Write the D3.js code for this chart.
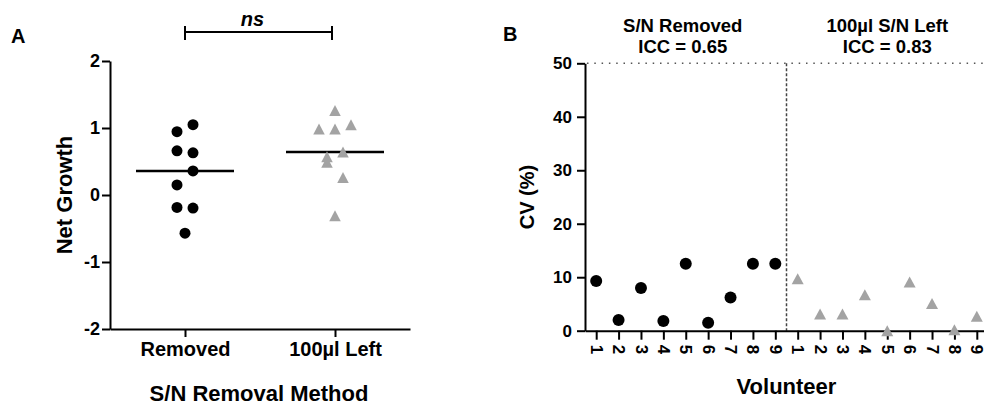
<!DOCTYPE html>
<html>
<head>
<meta charset="utf-8">
<script src="https://cdn.jsdelivr.net/npm/d3@7"></script>
<style>
  html, body { margin: 0; padding: 0; background: #fff; }
  svg { display: block; font-family: "Liberation Sans", Arial, sans-serif; font-weight: bold; }
</style>
</head>
<body>
<svg id="chart" width="984" height="406"></svg>
<script>
// ---- Panel A: net growth by supernatant removal method ----
const groupsA = ["Removed", "100\u00b5l Left"];
const removedGrowth = [0.945, 1.05, 0.66, 0.63, 0.36, 0.15, -0.185, -0.195, -0.57];
const removedLane   = [-1, 1, -1, 1, 1, -1, -1, 1, 0];
const leftGrowth    = [1.26, 0.985, 0.985, 1.05, 0.57, 0.49, 0.64, 0.26, -0.31];
const leftLane      = [0, -2, 0, 2, -1, -1, 1, 1, 0];
const growthTicks   = [-2, -1, 0, 1, 2];
const significance  = "ns";

// ---- Panel B: CV per volunteer ----
const volunteers   = ["1", "2", "3", "4", "5", "6", "7", "8", "9"];
const cvRemoved    = [9.3, 2.0, 8.0, 1.8, 12.5, 1.5, 6.2, 12.5, 12.5];
const cvLeft       = [9.7, 3.1, 3.1, 6.7, 0.0, 9.1, 5.1, 0.2, 2.7];
const cvTicks      = [0, 10, 20, 30, 40, 50];
const groupTitlesB = ["S/N Removed", "100\u00b5l S/N Left"];
const iccValues    = [0.65, 0.83];

const BLACK = "#000";
const GREY = "#a3a3a3";

const svg = d3.select("#chart");
const plainNumber = d => String(d);

function styleAxis(g, fontSize) {
  g.select(".domain").attr("stroke", BLACK).attr("stroke-width", 2);
  g.selectAll(".tick line").attr("stroke", BLACK).attr("stroke-width", 2);
  g.selectAll(".tick text")
    .attr("fill", BLACK)
    .style("font-family", "'Liberation Sans', Arial, sans-serif")
    .style("font-weight", "bold")
    .style("font-size", fontSize + "px");
}

function trianglePath(cx, cy, w, h) {
  return `M${cx},${cy - h / 2}L${cx + w / 2},${cy + h / 2}L${cx - w / 2},${cy + h / 2}Z`;
}

// ================= Panel A =================
const xA = d3.scalePoint().domain(groupsA).range([110, 410]).padding(0.5);
const yA = d3.scaleLinear().domain([-2, 2]).range([329, 61]);
const laneA = d3.scaleLinear().domain([-1, 1]).range([-8, 8]);

svg.append("g")
  .attr("transform", "translate(110,0)")
  .call(d3.axisLeft(yA).tickValues(growthTicks).tickFormat(plainNumber)
    .tickSizeInner(8).tickSizeOuter(0).tickPadding(2))
  .call(g => styleAxis(g, 18));

svg.append("g")
  .attr("transform", "translate(0,329)")
  .call(d3.axisBottom(xA).tickSizeInner(8).tickSizeOuter(0).tickPadding(5))
  .call(g => styleAxis(g, 20));

// medians
const medA = [d3.median(removedGrowth), d3.median(leftGrowth)];
svg.append("g").selectAll("line")
  .data(groupsA)
  .join("line")
  .attr("x1", d => xA(d) - 49)
  .attr("x2", d => xA(d) + 49)
  .attr("y1", (d, i) => yA(medA[i]))
  .attr("y2", (d, i) => yA(medA[i]))
  .attr("stroke", BLACK)
  .attr("stroke-width", 2.5);

// Removed: black circles
svg.append("g").selectAll("circle")
  .data(removedGrowth)
  .join("circle")
  .attr("cx", (d, i) => xA(groupsA[0]) + laneA(removedLane[i]))
  .attr("cy", d => yA(d))
  .attr("r", 5.5)
  .attr("fill", BLACK);

// 100µl left: grey triangles
svg.append("g").selectAll("path")
  .data(leftGrowth)
  .join("path")
  .attr("d", (d, i) => trianglePath(xA(groupsA[1]) + laneA(leftLane[i]), yA(d), 11.5, 11))
  .attr("fill", GREY);

// significance bracket
const bx1 = xA(groupsA[0]), bx2 = xA(groupsA[1]) - 3, by = 32;
svg.append("path")
  .attr("d", `M${bx1},${by - 6}V${by + 8}M${bx1},${by}H${bx2}M${bx2},${by - 6}V${by + 8}`)
  .attr("stroke", BLACK).attr("stroke-width", 2).attr("fill", "none");
svg.append("text")
  .attr("x", (bx1 + bx2) / 2 - 6).attr("y", 26)
  .attr("text-anchor", "middle")
  .style("font-size", "20px").style("font-style", "italic")
  .text(significance);

svg.append("text").attr("x", 11).attr("y", 43).style("font-size", "20px").text("A");

svg.append("text")
  .attr("transform", `translate(72,${(yA(-2) + yA(2)) / 2}) rotate(-90)`)
  .attr("text-anchor", "middle")
  .style("font-size", "22px")
  .text("Net Growth");

svg.append("text")
  .attr("x", 259).attr("y", 401)
  .attr("text-anchor", "middle")
  .style("font-size", "22px")
  .text("S/N Removal Method");

// ================= Panel B =================
const keysB = volunteers.map(v => "R" + v).concat(volunteers.map(v => "L" + v));
const xB = d3.scalePoint().domain(keysB).range([585, 988]).padding(0.5);
const yB = d3.scaleLinear().domain([0, 50]).range([330.7, 63.3]);
const stepB = xB.step();
const splitX = xB("R9") + stepB / 2;

// reference lines
svg.append("line")
  .attr("x1", 587).attr("x2", 984)
  .attr("y1", yB(50)).attr("y2", yB(50))
  .attr("stroke", "#555").attr("stroke-width", 1.5)
  .attr("stroke-dasharray", "1.5,5.8");
svg.append("line")
  .attr("x1", splitX).attr("x2", splitX)
  .attr("y1", yB(50)).attr("y2", yB(0))
  .attr("stroke", "#444").attr("stroke-width", 1.5)
  .attr("stroke-dasharray", "3,2");

svg.append("g")
  .attr("transform", "translate(585,0)")
  .call(d3.axisLeft(yB).tickValues(cvTicks).tickFormat(plainNumber)
    .tickSizeInner(8).tickSizeOuter(0).tickPadding(5))
  .call(g => styleAxis(g, 17));

const xAxisB = svg.append("g")
  .attr("transform", `translate(0,${yB(0)})`)
  .call(d3.axisBottom(xB).tickSizeInner(9).tickSizeOuter(0).tickFormat(d => d.slice(1)))
  .call(g => styleAxis(g, 17));
xAxisB.selectAll(".tick text")
  .attr("y", 0).attr("dy", "0.35em")
  .attr("text-anchor", "start")
  .attr("transform", "translate(0,14) rotate(90)");

// S/N removed: black circles
svg.append("g").selectAll("circle")
  .data(cvRemoved)
  .join("circle")
  .attr("cx", (d, i) => xB("R" + volunteers[i]))
  .attr("cy", d => yB(d))
  .attr("r", 6)
  .attr("fill", BLACK);

// 100µl left: grey triangles
svg.append("g").selectAll("path")
  .data(cvLeft)
  .join("path")
  .attr("d", (d, i) => trianglePath(xB("L" + volunteers[i]), yB(d), 12, 11))
  .attr("fill", GREY);

// group headings
const groupCentres = [
  (xB("R1") + xB("R9")) / 2,
  (xB("L1") + xB("L9")) / 2 + 3
];
groupTitlesB.forEach((t, i) => {
  const txt = svg.append("text")
    .attr("text-anchor", "middle")
    .style("font-size", "18.5px");
  txt.append("tspan").attr("x", groupCentres[i] - 3).attr("y", 32).text(t);
  txt.append("tspan").attr("x", groupCentres[i] - 3).attr("y", 53)
    .text("ICC = " + iccValues[i].toFixed(2));
});

svg.append("text").attr("x", 503).attr("y", 41).style("font-size", "20px").text("B");

svg.append("text")
  .attr("transform", `translate(534,${(yB(0) + yB(50)) / 2}) rotate(-90)`)
  .attr("text-anchor", "middle")
  .style("font-size", "20px")
  .text("CV (%)");

svg.append("text")
  .attr("x", splitX).attr("y", 394)
  .attr("text-anchor", "middle")
  .style("font-size", "22px")
  .text("Volunteer");
</script>
</body>
</html>
